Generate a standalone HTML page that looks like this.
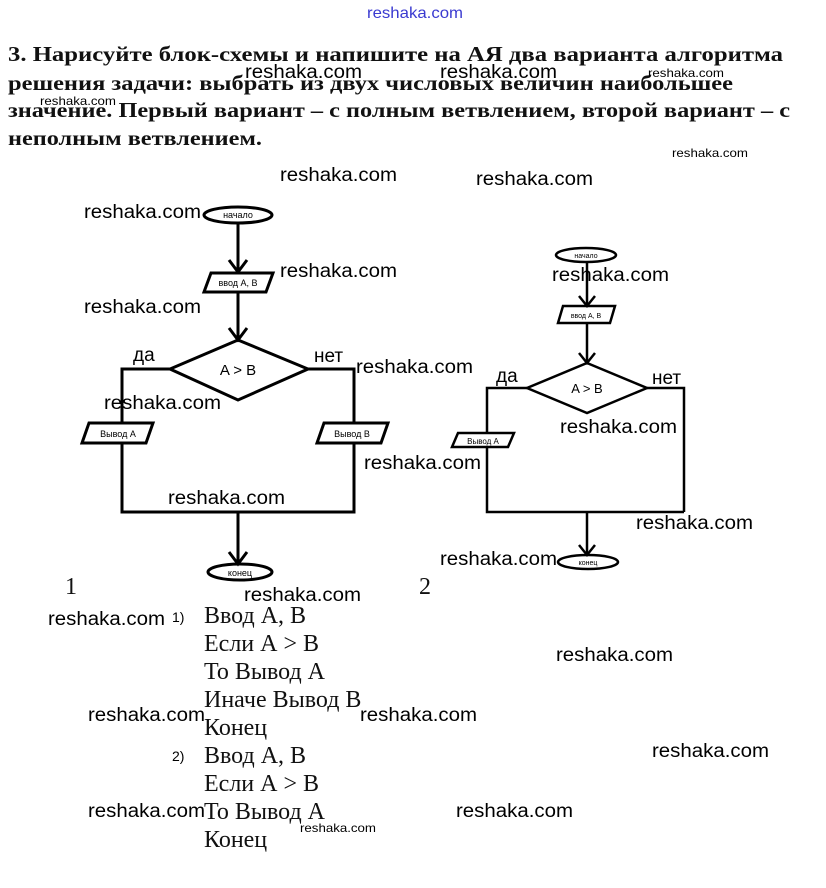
<!DOCTYPE html>
<html><head><meta charset="utf-8"><style>
html,body{margin:0;padding:0;background:#fff;}
svg{display:block;}
.h{font-family:"Liberation Serif","Noto Serif CJK SC",serif;font-weight:bold;font-size:21px;fill:#111;}
.w{font-family:"Liberation Sans","DejaVu Sans",sans-serif;font-size:19px;fill:#000;}
.ws{font-family:"Liberation Sans","DejaVu Sans",sans-serif;font-size:12px;fill:#000;}
.t{font-family:"Liberation Serif",serif;font-size:24px;fill:#111;}
.s{font-family:"Liberation Sans","DejaVu Sans",sans-serif;fill:#000;}
</style></head><body>
<svg width="826" height="888" viewBox="0 0 826 888" xmlns="http://www.w3.org/2000/svg">
<rect width="826" height="888" fill="#fff"/>
<text x="367" y="18" class="s" font-size="16" fill="#3a3ad0" style="fill:#3a3ad0" textLength="96" lengthAdjust="spacingAndGlyphs">reshaka.com</text>
<text x="8" y="61" class="h" textLength="775" lengthAdjust="spacingAndGlyphs">3.   Нарисуйте блок-схемы и напишите на АЯ два варианта алгоритма</text>
<text x="8" y="90" class="h" textLength="725" lengthAdjust="spacingAndGlyphs">решения задачи: выбрать из двух числовых величин наибольшее</text>
<text x="8" y="117" class="h" textLength="782" lengthAdjust="spacingAndGlyphs">значение. Первый вариант – с полным ветвлением, второй вариант – с</text>
<text x="8" y="145" class="h" textLength="254" lengthAdjust="spacingAndGlyphs">неполным ветвлением.</text>

<g fill="none" stroke="#000" stroke-width="3">
<ellipse cx="238" cy="215" rx="34" ry="8"/>
<line x1="238" y1="223" x2="238" y2="272"/>
<polyline points="229,260 238,272 247,260"/>
<polygon points="211,273 273,273 266,292 204,292"/>
<line x1="238" y1="292" x2="238" y2="340"/>
<polyline points="229,328 238,340 247,328"/>
<polygon points="238,340 308,369 238,400 170,369"/>
<polyline points="170,369 122,369 122,423"/>
<polyline points="308,369 354,369 354,423"/>
<polygon points="89,423 153,423 146,443 82,443"/>
<polygon points="324,423 388,423 381,443 317,443"/>
<polyline points="122,443 122,512 354,512 354,443"/>
<line x1="238" y1="512" x2="238" y2="564"/>
<polyline points="229,552 238,564 247,552"/>
<ellipse cx="240" cy="572" rx="32" ry="8"/>
</g>
<g fill="none" stroke="#000" stroke-width="2.5">
<ellipse cx="586" cy="255" rx="30" ry="7"/>
<line x1="587" y1="262" x2="587" y2="306"/>
<polyline points="579,296 587,306 595,296"/>
<polygon points="563,306 615,306 610,323 558,323"/>
<line x1="587" y1="323" x2="587" y2="363"/>
<polyline points="579,353 587,363 595,353"/>
<polygon points="587,363 647,388 587,413 527,388"/>
<polyline points="527,388 487,388 487,433"/>
<polyline points="647,388 684,388 684,512"/>
<polygon points="458,433 514,433 508,447 452,447"/>
<polyline points="487,447 487,512 684,512"/>
<line x1="587" y1="512" x2="587" y2="555"/>
<polyline points="579,545 587,555 595,545"/>
<ellipse cx="588" cy="562" rx="30" ry="7"/>
</g>
<g class="s" text-anchor="middle">
<text x="238" y="218" font-size="9">начало</text>
<text x="238" y="286" font-size="9">ввод А, В</text>
<text x="238" y="375" font-size="15">A &gt; B</text>
<text x="118" y="437" font-size="9">Вывод А</text>
<text x="352" y="437" font-size="9">Вывод В</text>
<text x="240" y="576" font-size="9">конец</text>
<text x="586" y="258" font-size="7">начало</text>
<text x="586" y="318" font-size="7">ввод А, В</text>
<text x="587" y="393" font-size="13">A &gt; B</text>
<text x="483" y="444" font-size="8">Вывод А</text>
<text x="588" y="565" font-size="7">конец</text>
</g>
<g class="s" font-size="19">
<text x="133" y="361">да</text>
<text x="314" y="362">нет</text>
<text x="496" y="382">да</text>
<text x="652" y="384">нет</text>
</g>
<text x="65" y="594" class="t" font-size="21">1</text>
<text x="419" y="594" class="t" font-size="21">2</text>
<g class="s" font-size="14"><text x="172" y="622">1)</text><text x="172" y="761">2)</text></g>
<g class="t">
<text x="204" y="623">Ввод А, В</text>
<text x="204" y="651">Если А &gt; В</text>
<text x="204" y="679">То Вывод А</text>
<text x="204" y="707">Иначе Вывод В</text>
<text x="204" y="735">Конец</text>
<text x="204" y="763">Ввод А, В</text>
<text x="204" y="791">Если А &gt; В</text>
<text x="204" y="819">То Вывод А</text>
<text x="204" y="847">Конец</text>
</g>
<g class="w">
<text x="245" y="78" textLength="117" lengthAdjust="spacingAndGlyphs">reshaka.com</text>
<text x="440" y="78" textLength="117" lengthAdjust="spacingAndGlyphs">reshaka.com</text>
<text x="280" y="181" textLength="117" lengthAdjust="spacingAndGlyphs">reshaka.com</text>
<text x="476" y="185" textLength="117" lengthAdjust="spacingAndGlyphs">reshaka.com</text>
<text x="84" y="218" textLength="117" lengthAdjust="spacingAndGlyphs">reshaka.com</text>
<text x="280" y="277" textLength="117" lengthAdjust="spacingAndGlyphs">reshaka.com</text>
<text x="84" y="313" textLength="117" lengthAdjust="spacingAndGlyphs">reshaka.com</text>
<text x="552" y="281" textLength="117" lengthAdjust="spacingAndGlyphs">reshaka.com</text>
<text x="356" y="373" textLength="117" lengthAdjust="spacingAndGlyphs">reshaka.com</text>
<text x="104" y="409" textLength="117" lengthAdjust="spacingAndGlyphs">reshaka.com</text>
<text x="560" y="433" textLength="117" lengthAdjust="spacingAndGlyphs">reshaka.com</text>
<text x="364" y="469" textLength="117" lengthAdjust="spacingAndGlyphs">reshaka.com</text>
<text x="168" y="504" textLength="117" lengthAdjust="spacingAndGlyphs">reshaka.com</text>
<text x="636" y="529" textLength="117" lengthAdjust="spacingAndGlyphs">reshaka.com</text>
<text x="440" y="565" textLength="117" lengthAdjust="spacingAndGlyphs">reshaka.com</text>
<text x="244" y="601" textLength="117" lengthAdjust="spacingAndGlyphs">reshaka.com</text>
<text x="48" y="625" textLength="117" lengthAdjust="spacingAndGlyphs">reshaka.com</text>
<text x="556" y="661" textLength="117" lengthAdjust="spacingAndGlyphs">reshaka.com</text>
<text x="88" y="721" textLength="117" lengthAdjust="spacingAndGlyphs">reshaka.com</text>
<text x="360" y="721" textLength="117" lengthAdjust="spacingAndGlyphs">reshaka.com</text>
<text x="652" y="757" textLength="117" lengthAdjust="spacingAndGlyphs">reshaka.com</text>
<text x="88" y="817" textLength="117" lengthAdjust="spacingAndGlyphs">reshaka.com</text>
<text x="456" y="817" textLength="117" lengthAdjust="spacingAndGlyphs">reshaka.com</text>
</g>
<g class="ws">
<text x="648" y="77" textLength="76" lengthAdjust="spacingAndGlyphs">reshaka.com</text>
<text x="40" y="105" textLength="76" lengthAdjust="spacingAndGlyphs">reshaka.com</text>
<text x="672" y="157" textLength="76" lengthAdjust="spacingAndGlyphs">reshaka.com</text>
<text x="300" y="832" textLength="76" lengthAdjust="spacingAndGlyphs">reshaka.com</text>
</g>
</svg>
</body></html>
